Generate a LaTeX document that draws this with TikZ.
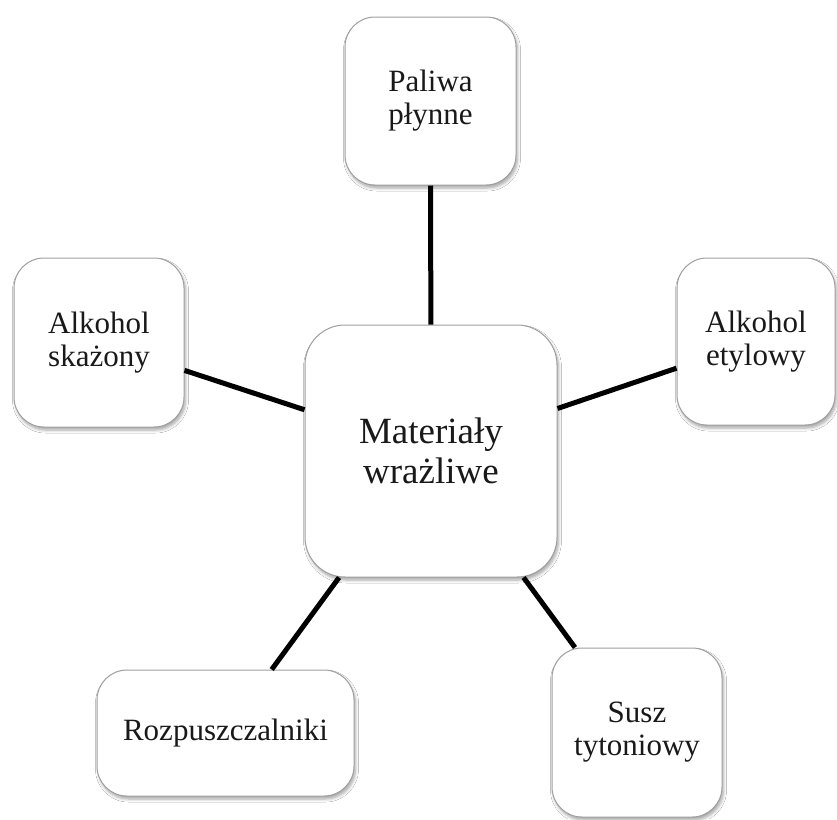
\documentclass[tikz,border=0pt]{standalone}
\usepackage{fontspec}
\setmainfont{Liberation Serif}
\usetikzlibrary{shadows.blur}
\tikzset{
  box/.style={draw=gray!75, line width=1pt, fill=white, rounded corners=30pt,
    align=center, inner sep=0pt, text=black!90,
    font=\fontsize{31}{33}\selectfont,
    blur shadow={shadow xshift=1.5pt, shadow yshift=-3pt, shadow opacity=35, shadow blur steps=6, shadow blur radius=3pt}},
  bigbox/.style={box, rounded corners=40pt, font=\fontsize{37}{40}\selectfont},
  link/.style={line width=5pt, black}
}
\begin{document}
\begin{tikzpicture}[x=1pt,y=-1pt]
\useasboundingbox[fill=white] (0,0) rectangle (837,819);
\node[bigbox, minimum width=252pt, minimum height=252pt] (c) at (431,451) {Materiały\\wrażliwe};
\node[box, minimum width=171pt, minimum height=168pt] (t) at (430.5,101) {Paliwa\\płynne};
\node[box, minimum width=170pt, minimum height=169pt] (l) at (99,342.5) {Alkohol\\skażony};
\node[box, minimum width=158pt, minimum height=167pt] (r) at (756,341.5) {Alkohol\\etylowy};
\node[box, minimum width=257pt, minimum height=126pt] (bl) at (225.5,733) {Rozpuszczalniki};
\node[box, minimum width=170pt, minimum height=169pt] (br) at (637,732.5) {Susz\\tytoniowy};
\draw[link] (c) -- (t);
\draw[link] (c) -- (l);
\draw[link] (c) -- (r);
\draw[link] (c) -- (bl);
\draw[link] (c) -- (br);
\end{tikzpicture}
\end{document}
